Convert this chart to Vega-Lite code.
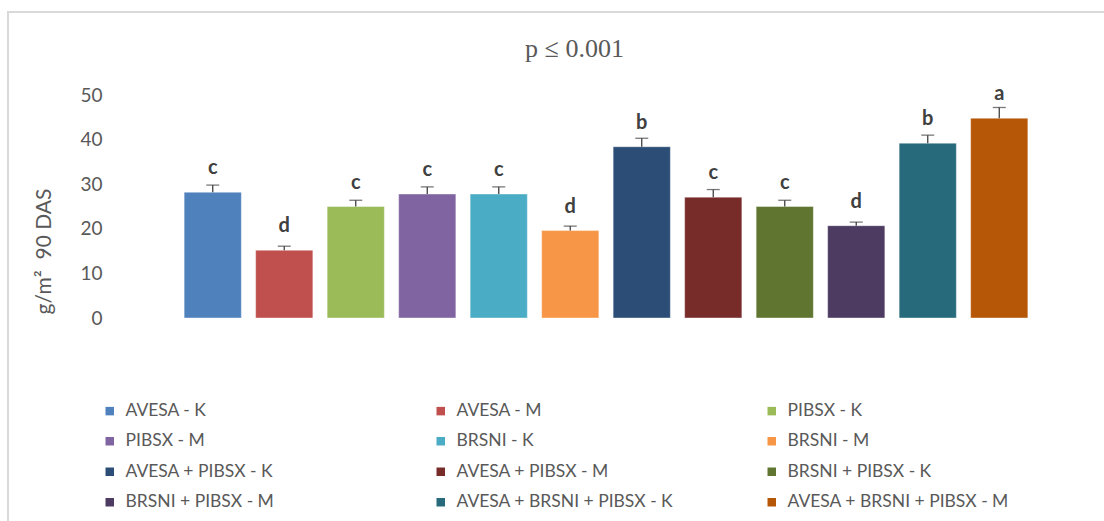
{
  "$schema": "https://vega.github.io/schema/vega-lite/v6.json",
  "width": 1099,
  "height": 512,
  "autosize": {"type": "none"},
  "padding": {"left": 8, "top": 12, "right": -3, "bottom": -3},
  "background": "white",
  "config": {"view": {"stroke": "#d9d9d9", "strokeWidth": 2}, "font": "Lato"},
  "title": {"text": "p ≤ 0.001", "font": "Liberation Serif", "fontSize": 26, "fontWeight": "normal", "color": "#595959", "anchor": "middle", "frame": "group", "orient": "top", "baseline": "alphabetic", "offset": -71, "dx": 17},
  "data": {"values": [
    {"t": "AVESA - K", "v": 28.2, "hi": 29.8, "g": "c"},
    {"t": "AVESA - M", "v": 15.2, "hi": 16.1, "g": "d"},
    {"t": "PIBSX - K", "v": 25.0, "hi": 26.4, "g": "c"},
    {"t": "PIBSX - M", "v": 27.8, "hi": 29.4, "g": "c"},
    {"t": "BRSNI - K", "v": 27.8, "hi": 29.4, "g": "c"},
    {"t": "BRSNI - M", "v": 19.6, "hi": 20.6, "g": "d"},
    {"t": "AVESA + PIBSX - K", "v": 38.4, "hi": 40.3, "g": "b"},
    {"t": "AVESA + PIBSX - M", "v": 27.1, "hi": 28.8, "g": "c"},
    {"t": "BRSNI + PIBSX - K", "v": 25.0, "hi": 26.4, "g": "c"},
    {"t": "BRSNI + PIBSX - M", "v": 20.7, "hi": 21.5, "g": "d"},
    {"t": "AVESA + BRSNI + PIBSX - K", "v": 39.2, "hi": 41.0, "g": "b"},
    {"t": "AVESA + BRSNI + PIBSX - M", "v": 44.8, "hi": 47.2, "g": "a"}
  ]},
  "encoding": {
    "x": {"field": "t", "type": "nominal", "sort": null, "scale": {"range": [169, 1027], "paddingInner": 0.2, "paddingOuter": 0.1}, "axis": null}
  },
  "layer": [
    {
      "mark": {"type": "bar", "stroke": "white", "strokeWidth": 1, "strokeOpacity": 0.4},
      "encoding": {
        "y": {"field": "v", "type": "quantitative", "scale": {"domain": [0, 50], "range": [306, 83]},
          "axis": {"values": [0, 10, 20, 30, 40, 50], "ticks": false, "domain": false, "grid": false, "offset": -94, "labelPadding": 0,
            "labelFont": "Lato", "labelFontSize": 19, "labelColor": "#595959",
            "title": "g/m² \u00a090 DAS", "titleFont": "Lato", "titleFontSize": 21, "titleFontWeight": "normal", "titleColor": "#595959",
            "titleAngle": -90, "titleX": -58, "titleY": 239, "titleAlign": "center", "titleBaseline": "middle"}},
        "color": {"field": "t", "type": "nominal", "sort": null,
          "scale": {"domain": ["AVESA - K", "AVESA - M", "PIBSX - K", "PIBSX - M", "BRSNI - K", "BRSNI - M", "AVESA + PIBSX - K", "AVESA + PIBSX - M", "BRSNI + PIBSX - K", "BRSNI + PIBSX - M", "AVESA + BRSNI + PIBSX - K", "AVESA + BRSNI + PIBSX - M"],
            "range": ["#4F81BD", "#C0504D", "#9BBB59", "#8064A2", "#4BACC6", "#F79646", "#2C4D75", "#772C2A", "#5F7530", "#4D3B62", "#276A7C", "#B65708"]},
          "legend": {"orient": "none", "legendX": 93, "legendY": 390, "direction": "horizontal", "columns": 3, "title": null,
            "symbolType": "square", "symbolSize": 72, "symbolStrokeWidth": 0, "labelFont": "Lato", "labelFontSize": 17.5, "labelColor": "#595959",
            "labelOffset": 7, "rowPadding": 11.5, "columnPadding": 85, "gridAlign": "all", "padding": 0, "labelLimit": 400}}
      }
    },
    {
      "mark": {"type": "rule", "color": "#404040", "strokeWidth": 1.3},
      "encoding": {"y": {"field": "v", "type": "quantitative"}, "y2": {"field": "hi"}}
    },
    {
      "mark": {"type": "tick", "color": "#404040", "thickness": 1.3, "size": 13, "orient": "horizontal"},
      "encoding": {"y": {"field": "hi", "type": "quantitative"}}
    },
    {
      "mark": {"type": "text", "font": "Lato", "fontWeight": "bold", "fontSize": 20, "color": "#404040", "baseline": "alphabetic", "dy": -18},
      "encoding": {"y": {"field": "v", "type": "quantitative"}, "text": {"field": "g"}}
    }
  ]
}
